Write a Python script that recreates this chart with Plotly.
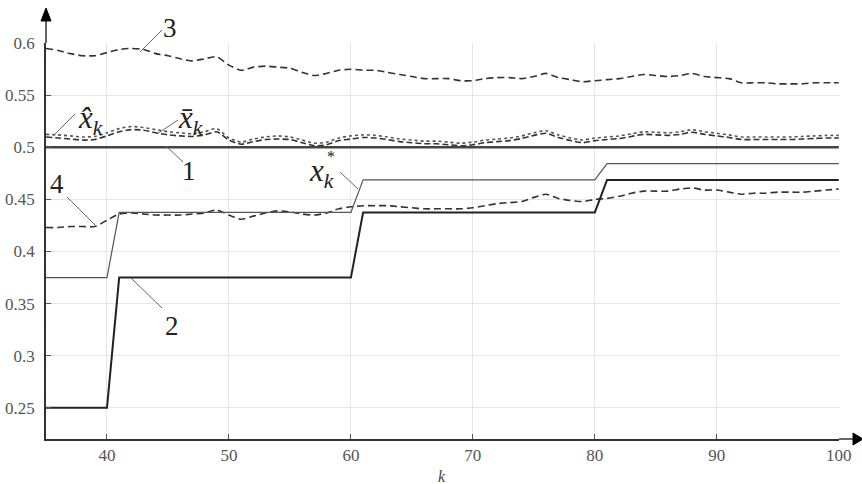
import plotly.graph_objects as go

k = list(range(35, 101))

line1 = [0.5] * len(k)

line2 = [0.25, 0.25, 0.25, 0.25, 0.25, 0.25,
         0.375, 0.375, 0.375, 0.375, 0.375, 0.375, 0.375, 0.375, 0.375, 0.375,
         0.375, 0.375, 0.375, 0.375, 0.375, 0.375, 0.375, 0.375, 0.375, 0.375,
         0.4375, 0.4375, 0.4375, 0.4375, 0.4375, 0.4375, 0.4375, 0.4375, 0.4375, 0.4375,
         0.4375, 0.4375, 0.4375, 0.4375, 0.4375, 0.4375, 0.4375, 0.4375, 0.4375, 0.4375,
         0.46875, 0.46875, 0.46875, 0.46875, 0.46875, 0.46875, 0.46875, 0.46875, 0.46875, 0.46875,
         0.46875, 0.46875, 0.46875, 0.46875, 0.46875, 0.46875, 0.46875, 0.46875, 0.46875, 0.46875]

xstar = [0.375, 0.375, 0.375, 0.375, 0.375, 0.375,
         0.4375, 0.4375, 0.4375, 0.4375, 0.4375, 0.4375, 0.4375, 0.4375, 0.4375, 0.4375,
         0.4375, 0.4375, 0.4375, 0.4375, 0.4375, 0.4375, 0.4375, 0.4375, 0.4375, 0.4375,
         0.46875, 0.46875, 0.46875, 0.46875, 0.46875, 0.46875, 0.46875, 0.46875, 0.46875, 0.46875,
         0.46875, 0.46875, 0.46875, 0.46875, 0.46875, 0.46875, 0.46875, 0.46875, 0.46875, 0.46875,
         0.484375, 0.484375, 0.484375, 0.484375, 0.484375, 0.484375, 0.484375, 0.484375, 0.484375, 0.484375,
         0.484375, 0.484375, 0.484375, 0.484375, 0.484375, 0.484375, 0.484375, 0.484375, 0.484375, 0.484375]

line3 = [0.595, 0.593, 0.590, 0.588, 0.588, 0.591, 0.594, 0.595, 0.594, 0.590,
         0.588, 0.585, 0.583, 0.585, 0.587, 0.579, 0.574, 0.577, 0.578, 0.577,
         0.576, 0.572, 0.569, 0.571, 0.574, 0.575, 0.574, 0.574, 0.572, 0.570,
         0.568, 0.566, 0.566, 0.566, 0.564, 0.564, 0.566, 0.567, 0.567, 0.566,
         0.568, 0.571, 0.567, 0.565, 0.563, 0.564, 0.565, 0.566, 0.568, 0.570,
         0.569, 0.568, 0.569, 0.571, 0.568, 0.567, 0.566, 0.562, 0.562, 0.562,
         0.561, 0.561, 0.561, 0.562, 0.562, 0.562]

line4 = [0.423, 0.423, 0.424, 0.424, 0.424, 0.430, 0.436, 0.437, 0.436, 0.435,
         0.435, 0.435, 0.436, 0.437, 0.440, 0.435, 0.431, 0.434, 0.437, 0.439,
         0.438, 0.436, 0.435, 0.437, 0.441, 0.443, 0.444, 0.444, 0.444, 0.443,
         0.442, 0.441, 0.441, 0.441, 0.441, 0.442, 0.444, 0.446, 0.447, 0.448,
         0.452, 0.455, 0.451, 0.449, 0.448, 0.450, 0.451, 0.453, 0.456, 0.458,
         0.458, 0.458, 0.460, 0.461, 0.459, 0.459, 0.457, 0.455, 0.456, 0.456,
         0.457, 0.457, 0.457, 0.458, 0.459, 0.460]

xbar = [0.5125, 0.512, 0.511, 0.510, 0.5105, 0.514, 0.518, 0.520, 0.519, 0.517,
        0.515, 0.514, 0.513, 0.515, 0.518, 0.509, 0.505, 0.508, 0.510, 0.511,
        0.510, 0.507, 0.504, 0.505, 0.509, 0.511, 0.512, 0.5115, 0.510, 0.508,
        0.507, 0.506, 0.506, 0.505, 0.504, 0.505, 0.507, 0.508, 0.509, 0.511,
        0.514, 0.516, 0.512, 0.509, 0.507, 0.509, 0.510, 0.511, 0.513, 0.515,
        0.5145, 0.514, 0.515, 0.517, 0.515, 0.5135, 0.512, 0.510, 0.510, 0.510,
        0.510, 0.510, 0.5105, 0.511, 0.5115, 0.5115]

xhat = [0.510, 0.509, 0.508, 0.507, 0.5075, 0.511, 0.515, 0.517, 0.5165, 0.514,
        0.512, 0.511, 0.5105, 0.512, 0.515, 0.507, 0.503, 0.5055, 0.5075, 0.508,
        0.5075, 0.5045, 0.5015, 0.5025, 0.5065, 0.508, 0.5095, 0.509, 0.5075, 0.5055,
        0.5045, 0.5035, 0.5035, 0.5025, 0.5015, 0.5025, 0.5045, 0.5055, 0.5065, 0.5085,
        0.5115, 0.5135, 0.5095, 0.5065, 0.5045, 0.5065, 0.5075, 0.5085, 0.5105, 0.5125,
        0.512, 0.5115, 0.5125, 0.5145, 0.5125, 0.511, 0.5095, 0.5075, 0.5075, 0.5075,
        0.5075, 0.5075, 0.508, 0.5085, 0.509, 0.509]

x_ticks = [40, 50, 60, 70, 80, 90, 100]
y_ticks = [0.25, 0.3, 0.35, 0.4, 0.45, 0.5, 0.55, 0.6]
y_tick_text = ["0.25", "0.3", "0.35", "0.4", "0.45", "0.5", "0.55", "0.6"]

# layout geometry (pixels)
W, H = 862, 484
ML, MR, MT, MB = 46, 23, 43, 45
PW = W - ML - MR
PH = H - MT - MB

SERIF = "Liberation Serif, Times New Roman, DejaVu Serif, serif"


def px(x):
    return (x - ML) / PW


def py(y):
    return (H - MB - y) / PH


fig = go.Figure()

fig.add_trace(go.Scatter(x=k, y=line3, mode="lines", line=dict(color="#333", width=1.6, dash="7px,4px", shape="spline", smoothing=0.6)))
fig.add_trace(go.Scatter(x=k, y=line4, mode="lines", line=dict(color="#333", width=1.6, dash="7px,4px", shape="spline", smoothing=0.6)))
fig.add_trace(go.Scatter(x=k, y=xhat, mode="lines", line=dict(color="#333", width=1.6, dash="6px,3px", shape="spline", smoothing=0.6)))
fig.add_trace(go.Scatter(x=k, y=xbar, mode="lines", line=dict(color="#555", width=1.6, dash="dot", shape="spline", smoothing=0.6)))
fig.add_trace(go.Scatter(x=k, y=line1, mode="lines", line=dict(color="#444", width=2.5)))
fig.add_trace(go.Scatter(x=k, y=xstar, mode="lines", line=dict(color="#555", width=1.2)))
fig.add_trace(go.Scatter(x=k, y=line2, mode="lines", line=dict(color="#222", width=2)))

font_tick = dict(family=SERIF, size=17, color="#555")

fig.update_layout(
    width=W, height=H,
    margin=dict(l=ML, r=MR, t=MT, b=MB, pad=0, autoexpand=False),
    paper_bgcolor="white", plot_bgcolor="white",
    showlegend=False,
    font=dict(family=SERIF),
    xaxis=dict(range=[35, 100.02], tickvals=x_ticks, ticktext=[str(v) for v in x_ticks],
               showgrid=True, gridcolor="#e6e6e6", gridwidth=1,
               showline=True, linecolor="#333", linewidth=1.5,
               ticks="inside", ticklen=5, tickcolor="#555",
               tickfont=font_tick, zeroline=False, automargin=False),
    yaxis=dict(range=[0.22, 0.6002], tickvals=y_ticks, ticktext=y_tick_text,
               showgrid=True, gridcolor="#e6e6e6", gridwidth=1,
               showline=True, linecolor="#333", linewidth=1.5,
               ticks="inside", ticklen=5, tickcolor="#555",
               tickfont=font_tick, zeroline=False, ticklabelstandoff=6, automargin=False),
)

shapes = []
# axis extensions with arrowheads
shapes.append(dict(type="line", xref="paper", yref="paper", x0=px(46), y0=py(43), x1=px(46), y1=py(18),
                   line=dict(color="#333", width=1.5)))
shapes.append(dict(type="path", xref="paper", yref="paper",
                   path=f"M {px(41)} {py(21)} L {px(46)} {py(8)} L {px(51)} {py(21)} Z",
                   fillcolor="black", line=dict(color="black", width=1)))
shapes.append(dict(type="line", xref="paper", yref="paper", x0=px(839), y0=py(439), x1=px(855), y1=py(439),
                   line=dict(color="#333", width=1.5)))
shapes.append(dict(type="path", xref="paper", yref="paper",
                   path=f"M {px(853)} {py(433)} L {px(863)} {py(439)} L {px(853)} {py(445)} Z",
                   fillcolor="black", line=dict(color="black", width=1)))

# leader lines
leaders = [((162, 30), (140, 52)), ((75, 114), (53, 136)), ((178, 120), (157, 134)),
           ((166, 146), (183, 162)), ((67, 197), (95, 225)), ((131, 278), (162, 308)),
           ((340, 172), (358, 189))]
for (a, b) in leaders:
    shapes.append(dict(type="line", xref="paper", yref="paper", x0=px(a[0]), y0=py(a[1]),
                       x1=px(b[0]), y1=py(b[1]), line=dict(color="#666", width=1)))
fig.update_layout(shapes=shapes)

lab_font = dict(family=SERIF, size=27, color="#222")
it_font = dict(family=SERIF, size=31, color="#222")
labels = [
    ("3", 170, 28, lab_font),
    ("1", 189, 171, lab_font),
    ("4", 57, 184, lab_font),
    ("2", 172, 326, lab_font),
    ("<i>x̂</i><sub><i>k</i></sub>", 90, 120, it_font),
    ("<i>x̄</i><sub><i>k</i></sub>", 190, 120, it_font),
    ("<i>x</i><sub><i>k</i></sub>", 321, 173, it_font),
    ("*", 331, 156, dict(family=SERIF, size=16, color="#222")),
    ("<i>k</i>", 442, 476, dict(family=SERIF, size=16, color="#444")),
]
for t, x, y, f in labels:
    fig.add_annotation(text=t, xref="paper", yref="paper", x=px(x), y=py(y),
                       xanchor="center", yanchor="middle", showarrow=False, font=f)

fig.write_html("out.html")
